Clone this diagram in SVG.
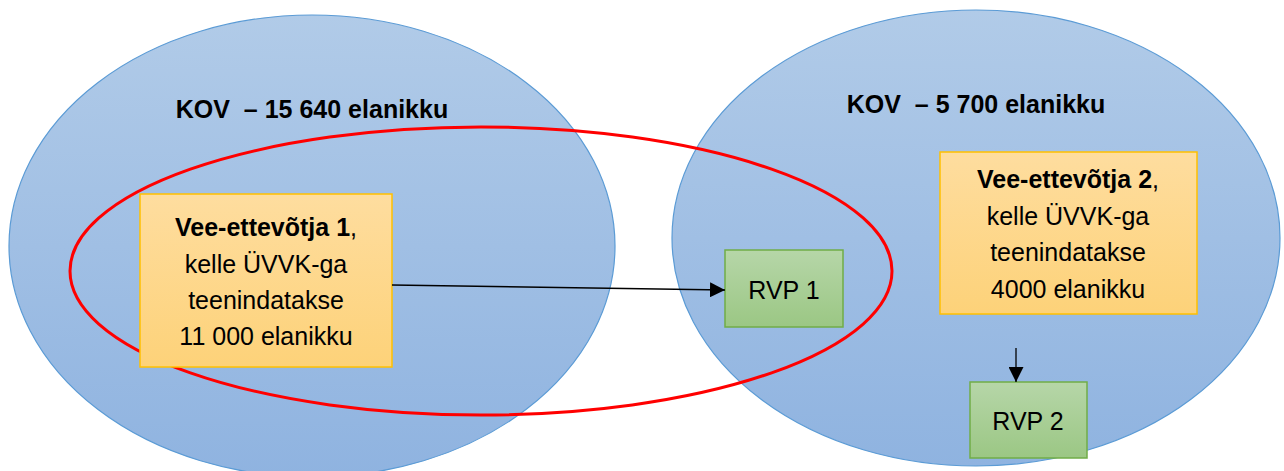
<svg xmlns="http://www.w3.org/2000/svg" width="1284" height="471" viewBox="0 0 1284 471">
<defs>
<linearGradient id="gBlue" x1="0" y1="0" x2="0" y2="1"><stop offset="0" stop-color="#b1cbe8"/><stop offset="1" stop-color="#8fb3e0"/></linearGradient>
<linearGradient id="gOrange" x1="0" y1="0" x2="0" y2="1"><stop offset="0" stop-color="#fedd9f"/><stop offset="1" stop-color="#fdd279"/></linearGradient>
<linearGradient id="gGreen" x1="0" y1="0" x2="0" y2="1"><stop offset="0" stop-color="#b6d6a8"/><stop offset="1" stop-color="#9bc784"/></linearGradient>
<marker id="arr" viewBox="0 0 10 10" refX="10" refY="5" markerWidth="15" markerHeight="15" markerUnits="userSpaceOnUse" orient="auto"><path d="M0,0 L10,5 L0,10 Z" fill="#000"/></marker>
<style>
.kov{fill:url(#gBlue);stroke:#5b9bd5;stroke-width:1.2}
.org{fill:url(#gOrange);stroke:#ffc000;stroke-width:1.5}
.grn{fill:url(#gGreen);stroke:#70ad47;stroke-width:1.5}
text{font-family:"Liberation Sans",Arial,sans-serif;fill:#000;text-anchor:middle}
.b{font-weight:bold}
.t{font-size:25px}
.r{font-size:25px}
.h{font-size:25px;font-weight:bold;white-space:pre}
.con{stroke:#000;stroke-width:1.3;fill:none}
</style>
</defs>
<g id="kov1"><ellipse class="kov" cx="312" cy="246" rx="303" ry="231"/><text class="h" x="312" y="118" xml:space="preserve">KOV  – 15 640 elanikku</text></g>
<g id="kov2"><ellipse class="kov" cx="976" cy="238" rx="304" ry="228"/><text class="h" x="976" y="113" xml:space="preserve">KOV  – 5 700 elanikku</text></g>
<g id="region"><ellipse cx="481" cy="271" rx="411" ry="144" fill="none" stroke="#ff0000" stroke-width="3"/></g>
<g id="vee1"><rect class="org" x="140" y="194" width="252" height="173"/>
<text class="t" x="266" y="236"><tspan class="b">Vee-ettevõtja 1</tspan>,</text>
<text class="t" x="266" y="273">kelle ÜVVK-ga</text>
<text class="t" x="266" y="309">teenindatakse</text>
<text class="t" x="266" y="345">11 000 elanikku</text></g>
<g id="vee2"><rect class="org" x="940" y="152" width="257" height="162"/>
<text class="t" x="1068" y="188"><tspan class="b">Vee-ettevõtja 2</tspan>,</text>
<text class="t" x="1068" y="225">kelle ÜVVK-ga</text>
<text class="t" x="1068" y="261">teenindatakse</text>
<text class="t" x="1068" y="298">4000 elanikku</text></g>
<g id="rvp1"><rect class="grn" x="725" y="250" width="118" height="77"/><text class="r" x="784" y="299">RVP 1</text></g>
<g id="rvp2"><rect class="grn" x="970" y="382" width="117" height="76"/><text class="r" x="1028" y="430">RVP 2</text></g>
<g id="connectors">
<line class="con" x1="392" y1="285" x2="725" y2="290" marker-end="url(#arr)"/>
<line class="con" x1="1016" y1="348" x2="1016" y2="382" marker-end="url(#arr)"/>
</g>
</svg>
